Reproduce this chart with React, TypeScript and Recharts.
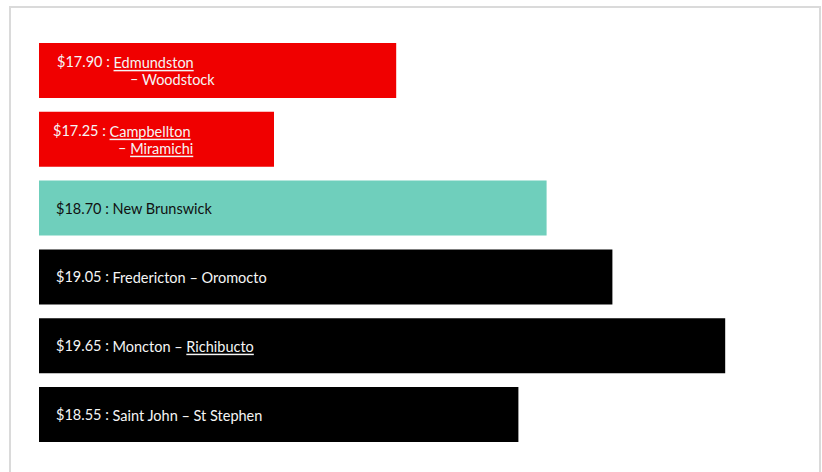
import { BarChart, Bar, XAxis, YAxis, Cell, LabelList } from 'recharts';

const regions = [
    'Edmundston – Woodstock',
    'Campbellton – Miramichi',
    'New Brunswick',
    'Fredericton – Oromocto',
    'Moncton – Richibucto',
    'Saint John – St Stephen',
];
const prices = [17.9, 17.25, 18.7, 19.05, 19.65, 18.55];
const wrapped = [true, true, false, false, false, false];
const underlined = ['Edmundston', 'Campbellton', 'Miramichi', 'Richibucto'];

const data = regions.map((region, i) => ({ region, price: prices[i] }));

const barColors = ['#f00000', '#f00000', '#6fcfbc', '#000000', '#000000', '#000000'];
const textColors = ['#f5f5f5', '#f5f5f5', '#111111', '#f5f5f5', '#f5f5f5', '#f5f5f5'];
const lineOneX = [18, 14, 17, 17, 17, 17];
const lineTwoX = [91, 79, 0, 0, 0, 0];

function words(text: string) {
    return text.split(' ').map((w, i, arr) => (
        <tspan key={i} textDecoration={underlined.includes(w) ? 'underline' : undefined}>
            {w + (i < arr.length - 1 ? ' ' : '')}
        </tspan>
    ));
}

function RegionLabel(props: any) {
    const vb = props.viewBox || props;
    const { x, y, height } = vb;
    const i = props.index;
    const cy = y + height / 2;
    const price = `$${prices[i].toFixed(2)} : `;
    const color = textColors[i];
    const style = { fontFamily: 'Lato, sans-serif', fontSize: 14.5 };

    if (wrapped[i]) {
        const [first, second] = regions[i].split(' – ');
        return (
            <g>
                <text x={x + lineOneX[i]} y={cy - 8.5} fill={color} dominantBaseline="central" style={style}>
                    {price}
                    {words(first)}
                </text>
                <text x={x + lineTwoX[i]} y={cy + 8.5} fill={color} dominantBaseline="central" style={style}>
                    {'– '}
                    {words(second)}
                </text>
            </g>
        );
    }
    return (
        <text x={x + lineOneX[i]} y={cy} fill={color} dominantBaseline="central" style={style}>
            {price}
            {words(regions[i])}
        </text>
    );
}

export default function App() {
    return (
        <div style={{ position: 'fixed', left: 0, top: 0, width: 822, height: 472, overflow: 'hidden', background: '#fff' }}>
            <div
                style={{
                    position: 'absolute',
                    left: 9,
                    top: 6,
                    width: 808,
                    height: 520,
                    border: '2px solid #dadada',
                }}
            />
            <div style={{ position: 'absolute', left: 0, top: 0 }}>
                <BarChart
                    width={822}
                    height={472}
                    data={data}
                    layout="vertical"
                    margin={{ top: 36, right: 31, bottom: 23, left: 39 }}
                    barCategoryGap="10%"
                >
                    <XAxis type="number" domain={[16, 20]} hide />
                    <YAxis type="category" dataKey="region" hide />
                    <Bar dataKey="price" isAnimationActive={false}>
                        {data.map((_, i) => (
                            <Cell key={i} fill={barColors[i]} />
                        ))}
                        <LabelList dataKey="price" content={RegionLabel} />
                    </Bar>
                </BarChart>
            </div>
        </div>
    );
}
